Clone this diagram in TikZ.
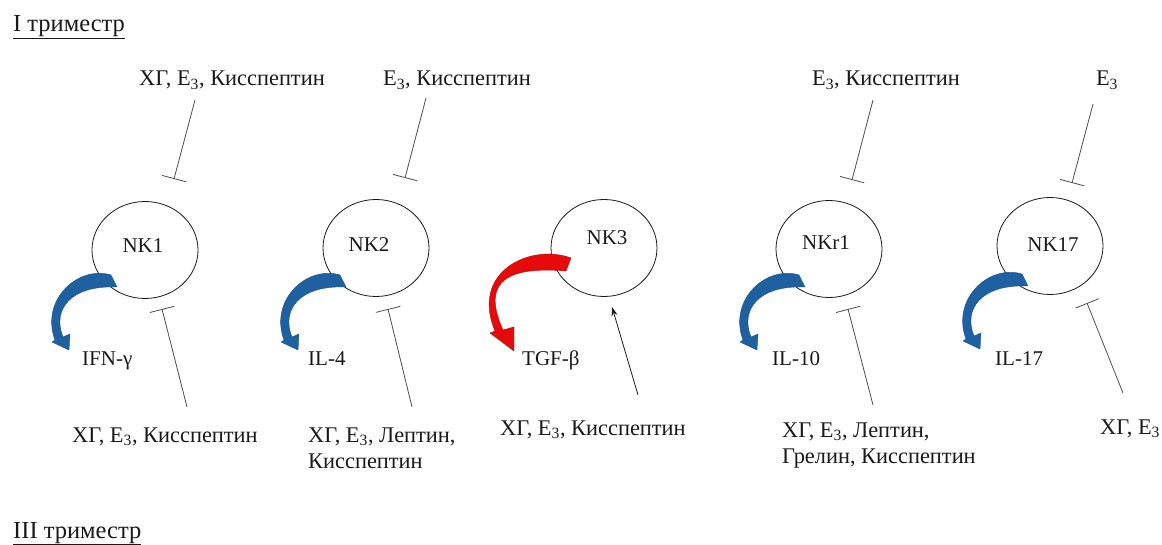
\documentclass[tikz,border=0pt]{standalone}
\usepackage{fontspec}
\setmainfont{Liberation Serif}
\usetikzlibrary{shapes.geometric,arrows.meta}
\definecolor{cytblue}{RGB}{30,96,160}
\definecolor{cytred}{RGB}{230,10,10}
\definecolor{ink}{RGB}{25,25,25}
\tikzset{
  txt/.style={font=\fontsize{21}{26}\selectfont, text=ink, inner sep=0pt},
  reg/.style={font=\fontsize{22.4}{26}\selectfont, text=ink, inner sep=0pt},
  head/.style={font=\fontsize{24.5}{28}\selectfont, text=ink, inner sep=0pt},
  cell/.style={ellipse, draw=ink, line width=0.8pt, minimum width=106pt,
    minimum height=97pt, inner sep=0pt},
  inhibit/.style={draw=black!70, line width=0.8pt,
    -{Bar[width=25pt,line width=0.8pt]}},
  activate/.style={draw=ink, line width=0.8pt, -{Stealth[length=9pt,width=6pt]}},
  bluearrow/.style={fill=cytblue, draw=cytblue!85!black, line width=0.4pt},
  redarrow/.style={fill=cytred, draw=cytred!75!black, line width=0.4pt},
  curv/.pic={\path[bluearrow] (0,0) .. controls (-33,-10) and (-71,25) .. (-56,65)
    -- (-59,67) -- (-42,75) -- (-41,59) -- (-48,62)
    .. controls (-59,35) and (-41,10) .. (6,12) -- cycle;}
}
\begin{document}
\begin{tikzpicture}[x=1pt,y=-1pt]
\path[use as bounding box] (0,0) rectangle (1162,545);

% section titles
\node[head, anchor=base west] (tri1) at (13,32) {\underline{I триместр}};
\node[head, anchor=base west] (tri3) at (13,538) {\underline{III триместр}};

% cells
\node[cell] (c1) at (145,250) {};
\node[cell] (c2) at (376,248) {};
\node[cell] (c3) at (604,248) {};
\node[cell] (c4) at (829,249) {};
\node[cell] (c5) at (1050,246) {};

\node[txt, anchor=base] (n1) at (143,253) {NK1};
\node[txt, anchor=base] (n2) at (369,252) {NK2};
\node[txt, anchor=base] (n3) at (607,245) {NK3};
\node[txt, anchor=base] (n4) at (826,250) {NKr1};
\node[txt, anchor=base] (n5) at (1053,252) {NK17};

% upper regulators
\node[reg, anchor=base] (t1) at (232,86) {ХГ, Е\textsubscript{3}, Кисспептин};
\node[reg, anchor=base] (t2) at (457,86) {Е\textsubscript{3}, Кисспептин};
\node[reg, anchor=base] (t4) at (886,86) {Е\textsubscript{3}, Кисспептин};
\node[reg, anchor=base] (t5) at (1107,86) {Е\textsubscript{3}};

% lower regulators (base anchor of a two-line node sits on its last line)
\node[reg, anchor=base west] (b1) at (72,442) {ХГ, Е\textsubscript{3}, Кисспептин};
\node[reg, anchor=base west, align=left] (b2) at (308,468) {ХГ, Е\textsubscript{3}, Лептин,\\Кисспептин};
\node[reg, anchor=base west] (b3) at (500,435) {ХГ, Е\textsubscript{3}, Кисспептин};
\node[reg, anchor=base west, align=left] (b4) at (782,463) {ХГ, Е\textsubscript{3}, Лептин,\\Грелин, Кисспептин};
\node[reg, anchor=base west] (b5) at (1100,434) {ХГ, Е\textsubscript{3}};

% cytokines
\node[txt, anchor=base west] (k1) at (82,366) {IFN-γ};
\node[txt, anchor=base west] (k2) at (308,366) {IL-4};
\node[txt, anchor=base west] (k3) at (522,366) {TGF-β};
\node[txt, anchor=base west] (k4) at (772,365) {IL-10};
\node[txt, anchor=base west] (k5) at (995,365) {IL-17};

% connector ends
\coordinate (u1s) at (195,100); \coordinate (u1e) at (174,179);
\coordinate (u2s) at (426,98);  \coordinate (u2e) at (405,178);
\coordinate (u4s) at (873,100); \coordinate (u4e) at (852,180);
\coordinate (u5s) at (1093,104); \coordinate (u5e) at (1072,183);
\coordinate (d1s) at (187,407); \coordinate (d1e) at (162,309);
\coordinate (d2s) at (412,407); \coordinate (d2e) at (388,309);
\coordinate (d3s) at (638,395); \coordinate (d3e) at (612,307);
\coordinate (d4s) at (873,405); \coordinate (d4e) at (848,309);
\coordinate (d5s) at (1123,393); \coordinate (d5e) at (1087,303);

\draw[inhibit] (u1s) -- (u1e);
\draw[inhibit] (u2s) -- (u2e);
\draw[inhibit] (u4s) -- (u4e);
\draw[inhibit] (u5s) -- (u5e);
\draw[inhibit] (d1s) -- (d1e);
\draw[inhibit] (d2s) -- (d2e);
\draw[activate] (d3s) -- (d3e);
\draw[inhibit] (d4s) -- (d4e);
\draw[inhibit] (d5s) -- (d5e);

% secretion arrows
\pic at (111,275) {curv};
\pic at (340,275) {curv};
\pic at (799,275) {curv};
\pic at (1022,274) {curv};
\path[redarrow] (571,258) .. controls (530,243) and (470,272) .. (495,331)
  -- (490,333) -- (514,351) -- (514,327) -- (503,330)
  .. controls (485,290) and (495,265) .. (566,271) -- cycle;
\end{tikzpicture}
\end{document}
